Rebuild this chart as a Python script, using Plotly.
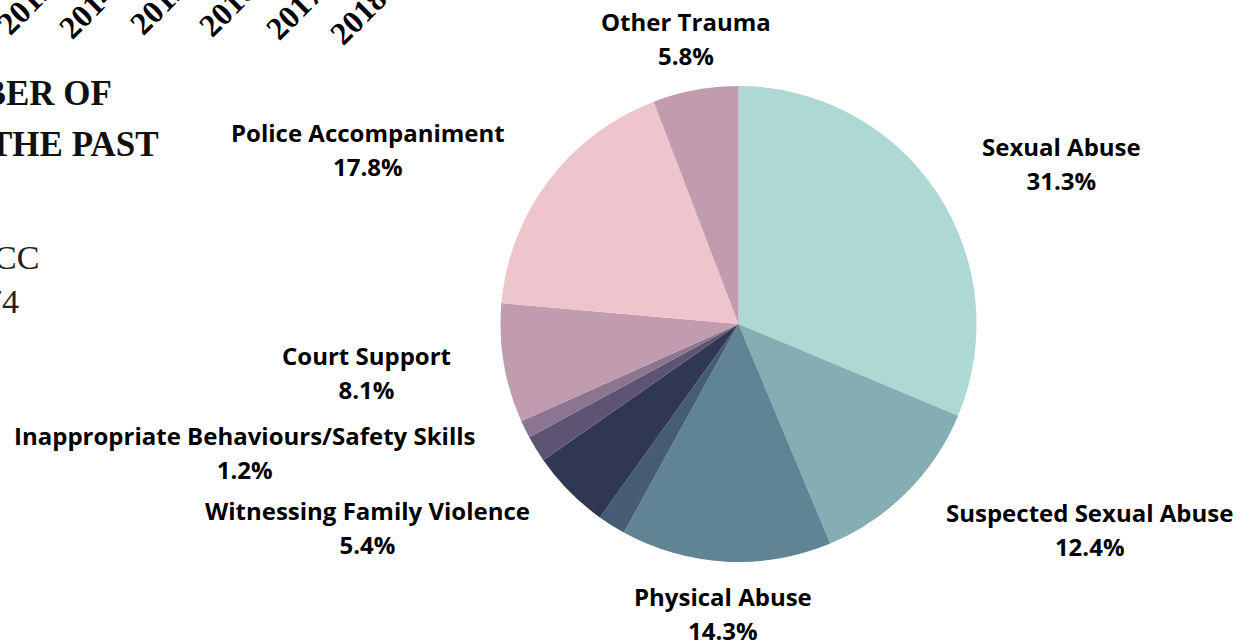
import math

import plotly.graph_objects as go

W, H = 1253, 641

# slices, clockwise from 12 o'clock
categories = [
    'Sexual Abuse',
    'Suspected Sexual Abuse',
    'Physical Abuse',
    'Neglect',
    'Witnessing Family Violence',
    'Emotional Abuse',
    'Inappropriate Behaviours/Safety Skills',
    'Court Support',
    'Police Accompaniment',
    'Other Trauma',
]
shares = [31.3, 12.4, 14.3, 1.9, 5.4, 1.8, 1.2, 8.1, 17.8, 5.8]
# the two thin slices carry no label in the source
show_label = [True, True, True, False, True, False, True, True, True, True]
slice_colors = [
    '#aed8d3', '#84aeb3', '#618494', '#455d72', '#2f3752',
    '#5c5470', '#8b7590', '#c09cae', '#efc5cd', '#c09cae',
]

# cut-off bits of the neighbouring chart on the page
year_labels = ['2013', '2014', '2015', '2016', '2017', '2018']
year_pos = [(0, 33), (62, 37), (133, 33), (202, 35), (269, 38), (333, 43)]
heading_lines = ['NUMBER OF', 'IN THE PAST']
side_lines = ['CC', '74']

cx, cy, r = 738.5, 324, 238
label_r = 290

fig = go.Figure(
    go.Pie(
        labels=categories,
        values=shares,
        sort=False,
        direction='clockwise',
        rotation=0,
        marker=dict(colors=slice_colors, line=dict(width=0)),
        textinfo='none',
        hoverinfo='label+percent',
        showlegend=False,
        domain=dict(x=[(cx - r) / W, (cx + r) / W], y=[1 - (cy + r) / H, 1 - (cy - r) / H]),
    )
)

annotations = []
total = sum(shares)
cum = 0.0
for name, v, show in zip(categories, shares, show_label):
    theta = 2 * math.pi * (cum + v / 2) / total
    cum += v
    if not show:
        continue
    px_x = cx + label_r * math.sin(theta)
    px_y = cy - label_r * math.cos(theta)
    s = math.sin(theta)
    anchor = 'center' if abs(s) < 0.3 else ('left' if s > 0 else 'right')
    annotations.append(dict(
        x=px_x / W, y=1 - px_y / H, xref='paper', yref='paper',
        xanchor=anchor, yanchor='middle', align='center', showarrow=False,
        text=f"<span style='font-size:24px'>{name}</span><br>"
             f"<span style='font-size:24px'>{v:.1f}%</span>",
        font=dict(family='Open Sans', size=26, color='#000000', weight='bold'),
    ))

serif = 'Liberation Serif'
for txt, (x0, yb) in zip(year_labels, year_pos):
    annotations.append(dict(
        x=(x0 - 13) / W, y=1 - (yb + 11) / H, xref='paper', yref='paper',
        xanchor='left', yanchor='bottom', textangle=-45, showarrow=False,
        text=txt, font=dict(family=serif, size=32, color='#000000', weight='bold'),
    ))

for txt, (xr, ym) in zip(heading_lines, [(114, 93), (161, 144)]):
    annotations.append(dict(
        x=xr / W, y=1 - ym / H, xref='paper', yref='paper',
        xanchor='right', yanchor='middle', showarrow=False,
        text=txt, font=dict(family=serif, size=35, color='#111111', weight='bold'),
    ))

for txt, (xr, ym) in zip(side_lines, [(41, 257), (21, 301)]):
    annotations.append(dict(
        x=xr / W, y=1 - ym / H, xref='paper', yref='paper',
        xanchor='right', yanchor='middle', showarrow=False,
        text=txt, font=dict(family=serif, size=34, color='#222222'),
    ))

fig.update_layout(
    width=W,
    height=H,
    margin=dict(l=0, r=0, t=0, b=0),
    paper_bgcolor='white',
    plot_bgcolor='white',
    annotations=annotations,
)

fig.write_html(
    'out.html',
    config={'displayModeBar': False},
    post_script="document.body.style.margin='0px'; document.body.style.overflow='hidden';",
)
